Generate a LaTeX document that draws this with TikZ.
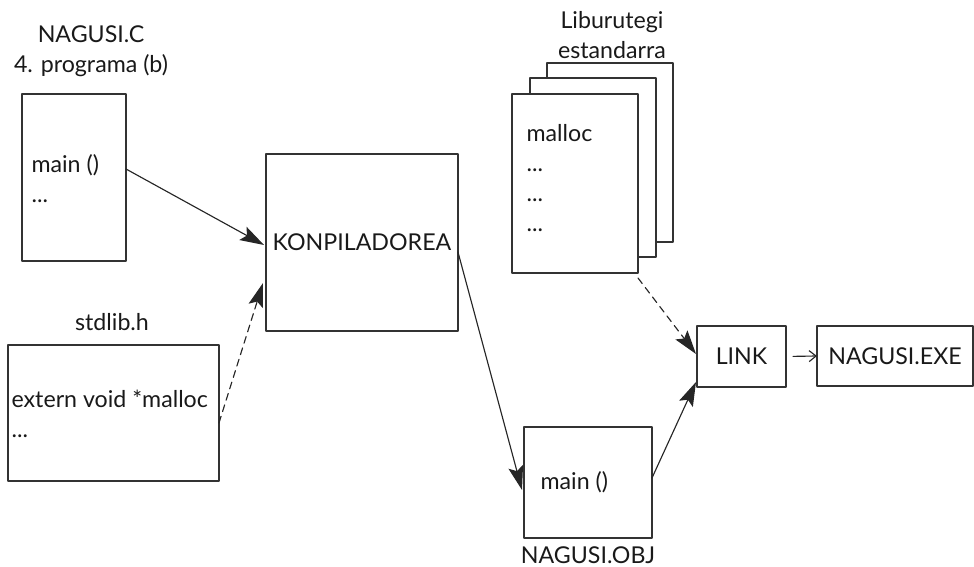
\documentclass[tikz,border=0pt]{standalone}
\usepackage{fontspec}
\setmainfont{Lato}
\usetikzlibrary{arrows.meta,calc}
\tikzstyle{every node}=[font=\fontsize{13.2}{17}\selectfont,text=black!90]
\tikzstyle{every path}=[line width=0.65pt,line cap=round,line join=round]
\tikzstyle{box}=[draw=black!80,rectangle,inner sep=0pt,outer sep=0pt,anchor=north west]
\tikzstyle{txt}=[inner sep=0pt,align=left,anchor=west]
\tikzstyle{title}=[inner sep=0pt,align=center]
\tikzstyle{bigarrow}=[draw=black!85,-{Stealth[length=4.8mm,width=3mm,inset=0.9mm]}]
\tikzstyle{smallarrow}=[draw=black!85,-{Straight Barb[length=1.4mm,width=2.2mm]}]
\tikzstyle{dashedarrow}=[bigarrow,dash pattern=on 4pt off 2.8pt]

\begin{document}
\begin{tikzpicture}[x=0.02cm,y=-0.02cm]
    \useasboundingbox (0,0) rectangle (974,567);

    % source file
    \node[title] (nagusictitle) at (91,51) {NAGUSI.C\\4. programa (b)};
    \node[box,minimum width=2.08cm,minimum height=3.34cm] (nagusic) at (22,94) {};
    \node[txt] (nagusictext) at (31,179) {main ()\\...};

    % header file
    \node[title] (stdlibtitle) at (112,322) {stdlib.h};
    \node[box,minimum width=4.22cm,minimum height=2.72cm] (stdlib) at (8,345) {};
    \node[txt] (stdlibtext) at (11,414) {extern void *malloc\\...};

    % compiler
    \node[box,minimum width=3.84cm,minimum height=3.54cm] (konp) at (266,154) {KONPILADOREA};

    % standard library (three sheets)
    \node[title] (libtitle) at (612,35) {Liburutegi\\estandarra};
    \node[box,fill=white,minimum width=2.52cm,minimum height=3.58cm] (lib3) at (547,63) {};
    \node[box,fill=white,minimum width=2.52cm,minimum height=3.58cm] (lib2) at (530,78) {};
    \node[box,fill=white,minimum width=2.52cm,minimum height=3.58cm] (lib1) at (512,94) {};
    \node[txt] (libtext) at (526,178) {malloc\\...\\...\\...};

    % object file
    \node[box,minimum width=2.56cm,minimum height=2.22cm] (obj) at (524,427) {};
    \node[txt] (objtext) at (540,482) {main ()};
    \node[title] (objtitle) at (588,555) {NAGUSI.OBJ};

    % linker and executable
    \node[box,minimum width=1.78cm,minimum height=1.22cm] (link) at (697,326) {LINK};
    \node[box,minimum width=3.12cm,minimum height=1.2cm] (exe) at (817,326) {NAGUSI.EXE};

    % connections
    \draw[bigarrow] ($(nagusic.north east)+(0,75)$) -- ($(konp.north west)+(-2,91)$);
    \draw[dashedarrow] ($(stdlib.north east)+(0,78)$) -- ($(konp.north west)+(-3,129)$);
    \draw[bigarrow] ($(konp.north east)+(0,98)$) -- ($(obj.north west)+(-2,63)$);
    \draw[dashedarrow] ($(lib1.south east)+(0,5)$) -- ($(link.north west)+(-1,28)$);
    \draw[bigarrow] ($(obj.north east)+(0,51)$) -- ($(link.south west)+(-1,-5)$);
    \draw[smallarrow,shorten <=1.4mm] (link.east) -- (exe.west);
\end{tikzpicture}
\end{document}
